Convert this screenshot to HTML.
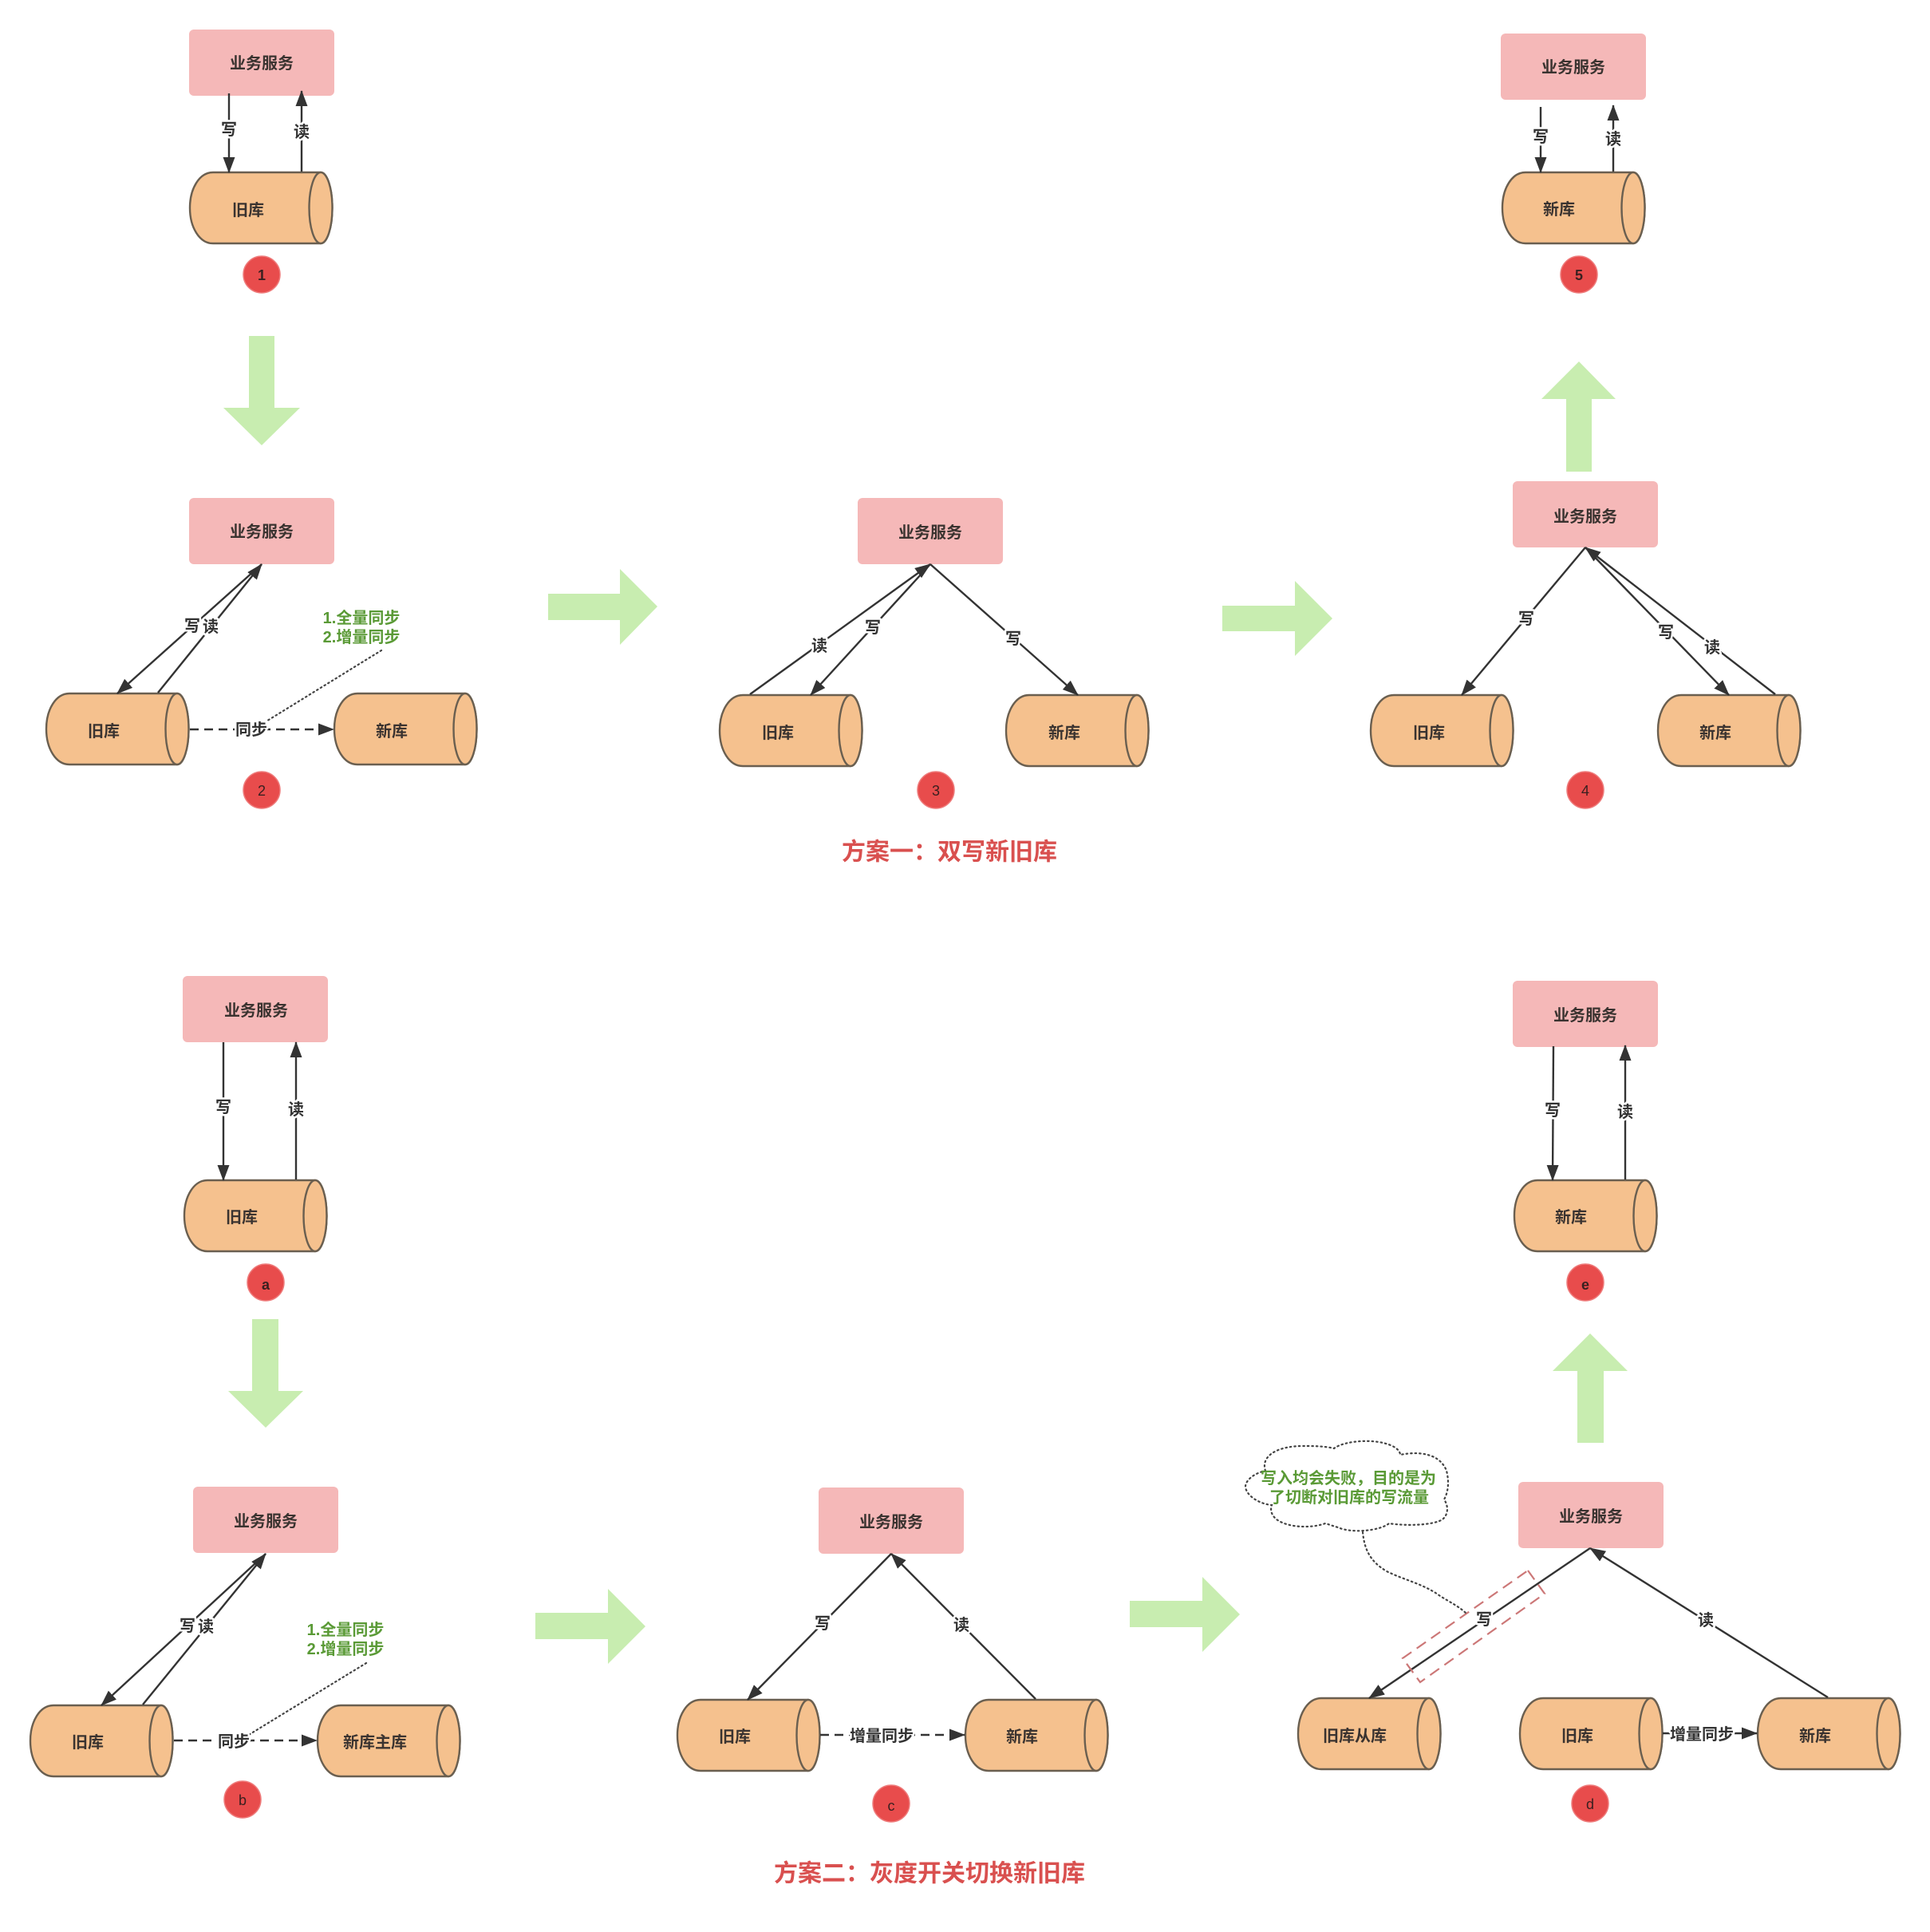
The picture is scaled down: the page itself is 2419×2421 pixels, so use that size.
<!DOCTYPE html>
<html><head><meta charset="utf-8">
<style>
html,body{margin:0;padding:0;background:#fff}
svg{display:block}
text{font-family:"Liberation Sans","Noto Sans CJK SC",sans-serif;text-anchor:middle;dominant-baseline:central;font-weight:700;fill:#3a3330;font-size:20px;transform:translateY(1px)}
.l{fill:#333;font-size:20px;font-weight:700;paint-order:stroke;stroke:#fff;stroke-width:5px;stroke-linejoin:round}
.g{fill:#5a9a36;font-size:20px}
.t{fill:#d9504f;font-size:30px;transform:none}
.n{font-size:18px;font-weight:400;fill:#3a2020}
.a{stroke:#333;stroke-width:2.4;fill:none;marker-end:url(#m)}
.d{stroke:#333;stroke-width:2.4;fill:none;stroke-dasharray:11 7;marker-end:url(#m)}
.o{stroke:#444;stroke-width:2.2;fill:none;stroke-dasharray:1.5 4;stroke-linecap:round}
.c{fill:#e84c4c;stroke:#ee7a7a;stroke-width:1.5}
.p{fill:#c8edb0}
</style></head><body>
<svg width="2419" height="2421" viewBox="0 0 2419 2421" xmlns="http://www.w3.org/2000/svg">
<defs>
<marker id="m" markerUnits="userSpaceOnUse" markerWidth="22" markerHeight="16" refX="19" refY="8" orient="auto"><path d="M0 0.5L20 8L0 15.5z" fill="#333"/></marker>
<rect id="b" width="182" height="83" rx="6" fill="#f5b8b8"/>
<g id="y"><path d="M30 1H165A14.5 44.5 0 0 1 165 90H30C13 90 1 70 1 45.5C1 21 13 1 30 1Z" fill="#f5c18e" stroke="#6a5f50" stroke-width="2.4"/><ellipse cx="165" cy="45.5" rx="14.5" ry="44.5" fill="#f5c18e" stroke="#6a5f50" stroke-width="2.4"/></g>
</defs>
<rect width="2419" height="2421" fill="#fff"/>

<!-- green arrows -->
<polygon class="p" points="312,421 344,421 344,511 376,511 328,558 280,511 312,511"/>
<polygon class="p" points="687,744 777,744 777,713 824,760 777,808 777,777 687,777"/>
<polygon class="p" points="1532,759 1623,759 1623,728 1670,775 1623,822 1623,791 1532,791"/>
<polygon class="p" points="1979,453 2025,500 1995,500 1995,591 1963,591 1963,500 1932,500"/>
<polygon class="p" points="316,1653 349,1653 349,1743 380,1743 333,1789 286,1743 316,1743"/>
<polygon class="p" points="671,2021 762,2021 762,1991 809,2038 762,2085 762,2054 671,2054"/>
<polygon class="p" points="1416,2006 1507,2006 1507,1976 1554,2023 1507,2070 1507,2039 1416,2039"/>
<polygon class="p" points="1993,1671 2040,1718 2010,1718 2010,1808 1977,1808 1977,1718 1946,1718"/>

<!-- step 1 -->
<use href="#b" x="237" y="37"/><use href="#y" x="237" y="215"/>
<text x="328" y="79">业务服务</text><text x="311" y="263">旧库</text>
<line class="a" x1="287" y1="117" x2="287" y2="216"/><line class="a" x1="378" y1="215" x2="378" y2="114"/>
<text class="l" x="287" y="162">写</text><text class="l" x="378" y="165">读</text>
<circle class="c" cx="328" cy="344" r="23"/><text class="n" x="328" y="344" style="font-weight:700">1</text>

<!-- step 2 -->
<use href="#b" x="237" y="624"/><use href="#y" x="57" y="868"/><use href="#y" x="418" y="868"/>
<text x="328" y="666">业务服务</text><text x="130" y="916">旧库</text><text x="491" y="916">新库</text>
<line class="a" x1="328" y1="707" x2="147" y2="869"/><line class="a" x1="198" y1="868" x2="328" y2="707"/>
<line class="o" x1="478" y1="815" x2="332" y2="905"/>
<line class="d" x1="238" y1="914" x2="418" y2="914"/>
<text class="l" x="241" y="784">写</text><text class="l" x="264" y="785">读</text><text class="l" x="315" y="914">同步</text>
<text class="g" x="453" y="774">1.全量同步</text><text class="g" x="453" y="798">2.增量同步</text>
<circle class="c" cx="328" cy="990" r="23"/><text class="n" x="328" y="990">2</text>

<!-- step 3 -->
<use href="#b" x="1075" y="624" width="181"/><use href="#y" x="901" y="870"/><use href="#y" x="1260" y="870"/>
<text x="1166" y="667">业务服务</text><text x="975" y="918">旧库</text><text x="1334" y="918">新库</text>
<line class="a" x1="940" y1="870" x2="1166" y2="707"/><line class="a" x1="1166" y1="707" x2="1016" y2="871"/><line class="a" x1="1166" y1="707" x2="1351" y2="871"/>
<text class="l" x="1027" y="809">读</text><text class="l" x="1094" y="786">写</text><text class="l" x="1270" y="800">写</text>
<circle class="c" cx="1173" cy="990" r="23"/><text class="n" x="1173" y="990">3</text>
<text class="t" x="1190" y="1068">方案一：双写新旧库</text>

<!-- step 4 -->
<use href="#b" x="1896" y="603"/><use href="#y" x="1717" y="870"/><use href="#y" x="2077" y="870"/>
<text x="1987" y="647">业务服务</text><text x="1791" y="918">旧库</text><text x="2150" y="918">新库</text>
<line class="a" x1="1987" y1="686" x2="1832" y2="871"/><line class="a" x1="1987" y1="686" x2="2167" y2="871"/><line class="a" x1="2225" y1="870" x2="1987" y2="686"/>
<text class="l" x="1913" y="775">写</text><text class="l" x="2088" y="792">写</text><text class="l" x="2146" y="811">读</text>
<circle class="c" cx="1987" cy="990" r="23"/><text class="n" x="1987" y="990">4</text>

<!-- step 5 -->
<use href="#b" x="1881" y="42"/><use href="#y" x="1882" y="215"/>
<text x="1972" y="84">业务服务</text><text x="1954" y="262">新库</text>
<line class="a" x1="1931" y1="134" x2="1931" y2="216"/><line class="a" x1="2022" y1="215" x2="2022" y2="132"/>
<text class="l" x="1931" y="171">写</text><text class="l" x="2022" y="174">读</text>
<circle class="c" cx="1979" cy="344" r="23"/><text class="n" x="1979" y="344" style="font-weight:700">5</text>

<!-- step a -->
<use href="#b" x="229" y="1223"/><use href="#y" x="230" y="1478"/>
<text x="321" y="1266">业务服务</text><text x="303" y="1525">旧库</text>
<line class="a" x1="280" y1="1306" x2="280" y2="1479"/><line class="a" x1="371" y1="1478" x2="371" y2="1306"/>
<text class="l" x="280" y="1387">写</text><text class="l" x="371" y="1390">读</text>
<circle class="c" cx="333" cy="1607" r="23"/><text class="n" x="333" y="1609" style="font-weight:700">a</text>

<!-- step b -->
<use href="#b" x="242" y="1863"/><use href="#y" x="37" y="2136"/><use href="#y" x="397" y="2136"/>
<text x="333" y="1906">业务服务</text><text x="110" y="2183">旧库</text><text x="470" y="2183">新库主库</text>
<line class="a" x1="333" y1="1947" x2="127" y2="2137"/><line class="a" x1="179" y1="2136" x2="333" y2="1947"/>
<line class="o" x1="459" y1="2084" x2="310" y2="2175"/>
<line class="d" x1="218" y1="2181" x2="397" y2="2181"/>
<text class="l" x="235" y="2037">写</text><text class="l" x="258" y="2038">读</text><text class="l" x="293" y="2182">同步</text>
<text class="g" x="433" y="2042">1.全量同步</text><text class="g" x="433" y="2066">2.增量同步</text>
<circle class="c" cx="304" cy="2255" r="23"/><text class="n" x="304" y="2255">b</text>

<!-- step c -->
<use href="#b" x="1026" y="1864"/><use href="#y" x="848" y="2129"/><use href="#y" x="1209" y="2129"/>
<text x="1117" y="1907">业务服务</text><text x="921" y="2176">旧库</text><text x="1281" y="2176">新库</text>
<line class="a" x1="1117" y1="1947" x2="937" y2="2130"/><line class="a" x1="1298" y1="2129" x2="1117" y2="1947"/>
<line class="d" x1="1028" y1="2174" x2="1209" y2="2174"/>
<text class="l" x="1031" y="2034">写</text><text class="l" x="1205" y="2036">读</text><text class="l" x="1105" y="2175">增量同步</text>
<circle class="c" cx="1117" cy="2260" r="23"/><text class="n" x="1117" y="2262">c</text>
<text class="t" x="1165" y="2348">方案二：灰度开关切换新旧库</text>

<!-- step d -->
<use href="#b" x="1903" y="1857"/><use href="#y" x="1626" y="2127"/><use href="#y" x="1904" y="2127"/><use href="#y" x="2202" y="2127"/>
<text x="1994" y="1900">业务服务</text><text x="1698" y="2175">旧库从库</text><text x="1977" y="2175">旧库</text><text x="2275" y="2175">新库</text>
<line class="a" x1="1993" y1="1940" x2="1716" y2="2128"/><line class="a" x1="2291" y1="2127" x2="1993" y2="1940"/>
<polygon points="1915,1968 1936,1997 1780,2108 1758,2078" fill="none" stroke="#cc7777" stroke-width="2.2" stroke-dasharray="14 8"/>
<line class="d" x1="2084" y1="2172" x2="2202" y2="2172"/>
<text class="l" x="1860" y="2029">写</text><text class="l" x="2138" y="2030">读</text><text class="l" x="2133" y="2173">增量同步</text>
<path class="o" d="M1586 1843C1580 1825 1600 1812 1633 1812C1645 1812 1660 1812 1672 1815C1685 1805 1725 1802 1745 1812C1752 1815 1755 1820 1755 1823C1780 1818 1805 1822 1813 1843C1816 1855 1816 1868 1810 1879C1816 1888 1815 1898 1808 1904C1795 1912 1760 1912 1741 1909C1730 1918 1695 1922 1677 1914C1670 1912 1665 1910 1661 1909C1645 1915 1615 1915 1600 1904C1593 1898 1592 1892 1594 1886C1580 1885 1562 1875 1561 1863C1561 1855 1572 1846 1586 1843Z"/>
<path class="o" d="M1708 1920C1710 1940 1716 1956 1738 1969C1760 1980 1785 1985 1805 2000C1818 2008 1830 2014 1838 2022"/>
<text class="g" x="1690" y="1852">写入均会失败，目的是为</text><text class="g" x="1691" y="1876">了切断对旧库的写流量</text>
<circle class="c" cx="1993" cy="2260" r="23"/><text class="n" x="1993" y="2260">d</text>

<!-- step e -->
<use href="#b" x="1896" y="1229"/><use href="#y" x="1897" y="1478"/>
<text x="1987" y="1272">业务服务</text><text x="1969" y="1525">新库</text>
<line class="a" x1="1947" y1="1311" x2="1946" y2="1479"/><line class="a" x1="2037" y1="1478" x2="2037" y2="1310"/>
<text class="l" x="1946" y="1391">写</text><text class="l" x="2037" y="1393">读</text>
<circle class="c" cx="1987" cy="1607" r="23"/><text class="n" x="1987" y="1609" style="font-weight:700">e</text>
</svg>
</body></html>
